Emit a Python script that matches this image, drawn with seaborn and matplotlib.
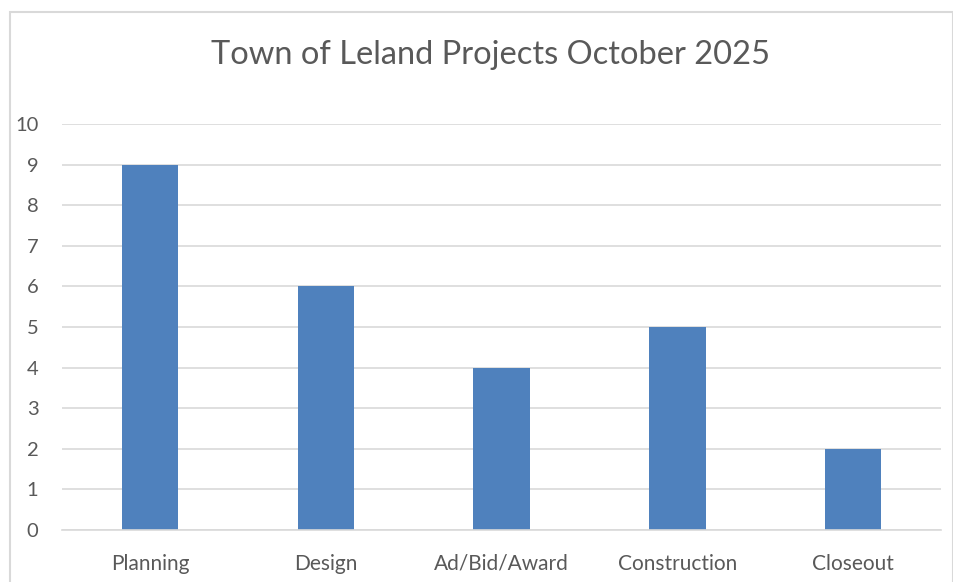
import matplotlib
matplotlib.use("Agg")
import matplotlib.pyplot as plt
import matplotlib.patches as mpatches
import seaborn as sns
import pandas as pd

# -------- DATA --------
stages = ["Planning", "Design", "Ad/Bid/Award", "Construction", "Closeout"]
counts = [9, 6, 4, 5, 2]
y_ticks = list(range(0, 11))

df = pd.DataFrame({"Stage": stages, "Projects": counts})

sns.set_theme(style="white")
plt.rcParams["font.family"] = ["Lato", "DejaVu Sans"]

text_color = "#595959"
grid_color = "#D9D9D9"
bar_color = "#4F81BD"

fig = plt.figure(figsize=(9.54, 5.82), dpi=100)
ax = fig.add_axes([0.065, 0.0893, 0.9215, 0.6976])

sns.barplot(data=df, x="Stage", y="Projects", color=bar_color,
            width=0.32, saturation=1, linewidth=0, ax=ax, zorder=3)

ax.set_ylim(0, 10)
ax.set_yticks(y_ticks)
ax.set_xlim(-0.5, len(stages) - 0.5)
ax.yaxis.grid(True, color=grid_color, linewidth=1.2, zorder=0)
ax.xaxis.grid(False)
for s in ["top", "right", "left"]:
    ax.spines[s].set_visible(False)
ax.spines["bottom"].set_color(grid_color)
ax.spines["bottom"].set_linewidth(1.2)
ax.spines["bottom"].set_zorder(4)

ax.tick_params(axis="x", length=0, pad=17, labelsize=15, labelcolor=text_color)
ax.tick_params(axis="y", length=0, pad=17, labelsize=14.5, labelcolor=text_color)
ax.set_xlabel("")
ax.set_ylabel("")

fig.text(0.514, 0.905, "Town of Leland Projects October 2025",
         ha="center", va="center", fontsize=23.5, color=text_color)

# chart border
border = mpatches.Rectangle((10 / 954, -0.05), 943 / 954, 1 - 12 / 582 + 0.05,
                            transform=fig.transFigure, fill=False,
                            edgecolor="#D9D9D9", linewidth=1.5)
fig.patches.append(border)

fig.savefig("out.png", dpi=100)
